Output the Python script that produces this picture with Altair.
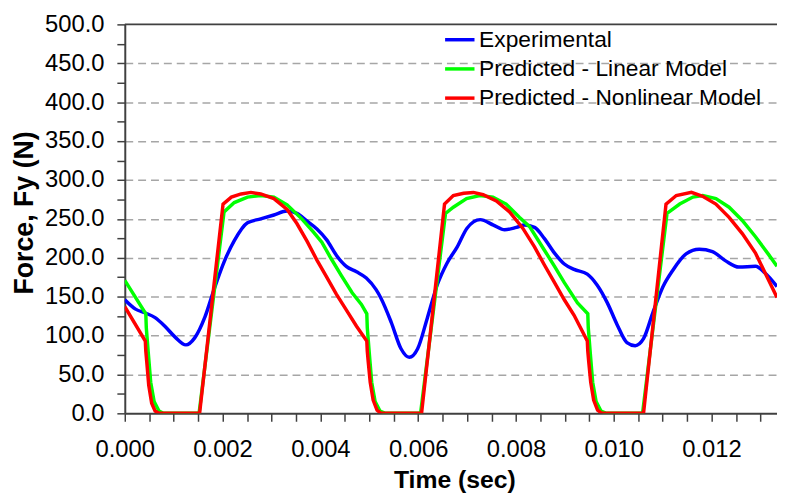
import altair as alt
import pandas as pd

# ---- data (time in ms, force in N) ----
series_names = ["Experimental", "Predicted - Linear Model", "Predicted - Nonlinear Model"]
series_colors = ["#0000ff", "#00ff00", "#ff0000"]

exp_t = [0.00, 0.22, 0.42, 0.62, 0.82, 1.03, 1.25, 1.43, 1.64, 1.84, 2.04, 2.24, 2.51, 2.78,
         3.05, 3.32, 3.52, 3.73, 3.93, 4.13, 4.33, 4.53, 4.74, 4.94, 5.14, 5.24, 5.45, 5.65,
         5.82, 5.99, 6.19, 6.39, 6.59, 6.80, 7.00, 7.27, 7.54, 7.77, 8.01, 8.18, 8.38, 8.58,
         8.79, 8.99, 9.19, 9.46, 9.66, 9.87, 10.07, 10.27, 10.44, 10.61, 10.81, 11.01, 11.21,
         11.48, 11.75, 12.02, 12.29, 12.56, 12.90, 13.10, 13.34]
exp_v = [146, 134, 129, 123, 112, 98, 88, 97, 124, 162, 196, 222, 245, 250,
         255, 260, 257, 247, 237, 223, 203, 189, 182, 174, 159, 148, 117, 83,
         72, 83, 123, 165, 193, 214, 238, 249, 242, 236, 239, 242, 239, 225,
         206, 192, 185, 179, 165, 142, 114, 91, 87, 96, 131, 163, 184,
         205, 211, 208, 196, 188, 189, 180, 163]

lin_t = [0.00, 0.43, 0.44, 0.48, 0.53, 0.60, 0.70, 0.79, 1.52, 2.03, 2.24, 2.51, 2.78, 3.05,
         3.32, 3.62, 3.86, 4.03, 4.21, 4.43, 4.65, 4.84, 4.95, 4.96, 5.00, 5.05, 5.12, 5.22,
         5.33, 6.05, 6.56, 6.72, 6.99, 7.26, 7.53, 7.80, 8.07, 8.28, 8.58, 8.79, 8.99, 9.26,
         9.47, 9.48, 9.52, 9.57, 9.64, 9.74, 9.85, 10.59, 11.09, 11.35, 11.62, 11.82, 12.09,
         12.36, 12.63, 12.90, 13.17, 13.34]
lin_v = [171, 128, 110, 78, 40, 15, 3, 0, 0, 259, 271, 278, 280, 278,
         268, 250, 233, 220, 200, 177, 155, 140, 128, 110, 78, 40, 15, 3,
         0, 0, 257, 265, 276, 280, 278, 269, 252, 240, 210, 189, 168, 142,
         128, 110, 78, 40, 15, 3, 0, 0, 257, 269, 278, 280, 276,
         265, 248, 227, 204, 189]

non_t = [0.00, 0.42, 0.43, 0.45, 0.49, 0.55, 0.62, 0.70, 1.53, 2.01, 2.18, 2.38, 2.58, 2.78,
         3.05, 3.32, 3.52, 3.73, 3.93, 4.13, 4.33, 4.53, 4.74, 4.95, 4.96, 4.98, 5.02, 5.08,
         5.16, 5.24, 6.07, 6.54, 6.72, 6.93, 7.13, 7.33, 7.60, 7.87, 8.14, 8.38, 8.58, 8.79,
         8.99, 9.19, 9.46, 9.47, 9.49, 9.53, 9.59, 9.67, 9.76, 10.61, 11.07, 11.28, 11.59,
         11.82, 12.09, 12.36, 12.63, 12.90, 13.10, 13.34]
non_v = [137, 93, 80, 66, 36, 13, 3, 0, 0, 269, 278, 282, 284, 282,
         276, 262, 244, 221, 197, 175, 153, 133, 112, 93, 80, 66, 40, 17,
         4, 0, 0, 269, 280, 283, 284, 281, 273, 259, 238, 214, 191, 168,
         146, 126, 93, 80, 66, 40, 17, 4, 0, 0, 269, 280, 284,
         279, 269, 252, 231, 206, 180, 149]

top_value = [500]
y_ticks = [0, 25, 50, 75, 100, 125, 150, 175, 200, 225, 250, 275, 300, 325, 350,
           375, 400, 425, 450, 475, 500]
x_ticks = [0.0, 0.0005, 0.001, 0.0015, 0.002, 0.0025, 0.003, 0.0035, 0.004, 0.0045,
           0.005, 0.0055, 0.006, 0.0065, 0.007, 0.0075, 0.008, 0.0085, 0.009, 0.0095,
           0.01, 0.0105, 0.011, 0.0115, 0.012, 0.0125, 0.013]

frames = []
for name, ts, vs in zip(series_names, [exp_t, lin_t, non_t], [exp_v, lin_v, non_v]):
    frames.append(pd.DataFrame({"t": [v / 1000.0 for v in ts], "force": vs, "series": name}))
df = pd.concat(frames, ignore_index=True)

FONT = "Liberation Sans"

x_enc = alt.X(
    "t:Q",
    scale=alt.Scale(domain=[0, 0.01334], nice=False, zero=False),
    axis=alt.Axis(
        title="Time (sec)",
        values=x_ticks,
        labelExpr="(round(datum.value*10000) % 20 == 0) ? format(datum.value, '.3f') : ''",
        grid=False,
        tickSize=8, tickColor="#404040", tickWidth=1.5,
        domainColor="#404040", domainWidth=2,
        labelFont=FONT, labelFontSize=24, labelColor="#000000", labelPadding=17,
        labelFlush=False, labelOverlap=False,
        titleFont=FONT, titleFontSize=25, titleFontWeight="bold", titleColor="#000000",
        titleX=333, titleY=75, titleBaseline="alphabetic", titleAlign="center",
    ),
)

y_axis = alt.Axis(
    title="Force, Fy (N)",
    values=y_ticks,
    labelExpr="(round(datum.value) % 50 == 0) ? format(datum.value, '.1f') : ''",
    grid=True,
    gridColor="#a6a6a6", gridDash=[8, 5], gridWidth=1.5,
    gridOpacity={"condition": {"test": "round(datum.value) % 50 == 0 && datum.value > 0 && datum.value < 500", "value": 1}, "value": 0},
    tickSize=8, tickColor="#404040", tickWidth=1.5,
    domainColor="#404040", domainWidth=2,
    labelFont=FONT, labelFontSize=24, labelColor="#000000", labelPadding=13,
    labelOverlap=False, labelFlush=False,
    titleFont=FONT, titleFontSize=27, titleFontWeight="bold", titleColor="#000000",
    titleX=-93, titleY=190, titleAngle=-90, titleBaseline="alphabetic", titleAlign="center",
)
y_scale = alt.Scale(domain=[0, 500], nice=False)
y_enc = alt.Y("force:Q", scale=y_scale, axis=y_axis)

color_enc = alt.Color(
    "series:N",
    scale=alt.Scale(domain=series_names, range=series_colors),
    legend=alt.Legend(
        title=None, orient="none", legendX=327, legendY=4, padding=0,
        symbolType="M-1.65,0H1.65", symbolSize=324, symbolStrokeWidth=3.5,
        labelFont=FONT, labelFontSize=23, labelColor="#000000", labelOffset=8,
        rowPadding=5.5, labelLimit=400,
    ),
)

layers = []
for name, interp in zip(series_names, ["monotone", "linear", "linear"]):
    layers.append(
        alt.Chart(df)
        .transform_filter(alt.datum.series == name)
        .mark_line(strokeWidth=3.5, interpolate=interp, clip=True)
        .encode(x=x_enc, y=y_enc, color=color_enc)
    )

top_border = alt.Chart(pd.DataFrame({"force": top_value})).mark_rule(
    color="#404040", strokeWidth=2
).encode(y=y_enc)

chart = (
    alt.layer(*layers, top_border)
    .properties(
        width=659,
        height=393,
        autosize=alt.AutoSizeParams(type="none"),
        padding={"left": 118, "top": 14, "right": 0, "bottom": 84},
        background="white",
    )
    .configure_view(stroke=None)
)

chart.save("out.html", embed_options={"renderer": "svg", "actions": False})
